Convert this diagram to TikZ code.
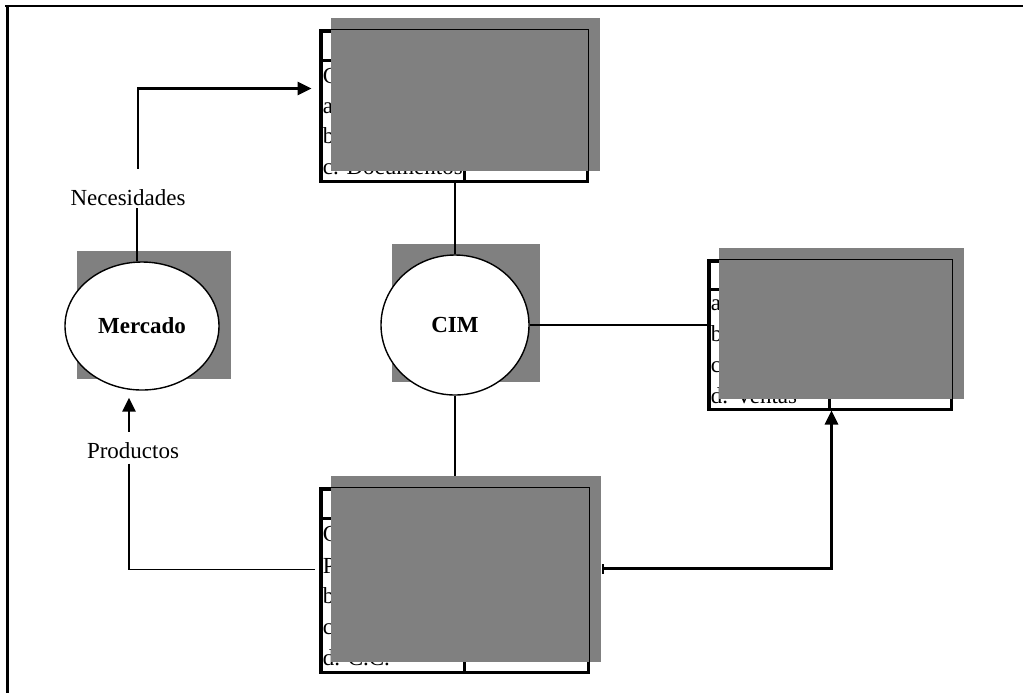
\documentclass[tikz,border=0pt]{standalone}
\usepackage{fontspec}
\setmainfont{Liberation Serif}
\usetikzlibrary{arrows.meta,positioning,calc,shapes.geometric}
\definecolor{cimgray}{RGB}{128,128,128}
\tikzset{
  cimbox/.style={
    draw,
    line width=1.5pt,
    inner sep=0pt
  },
  cimrule/.style={line width=1.2pt},
  cimrim/.style={line width=0.8pt},
  cimshade/.style={fill=cimgray},
  cimoval/.style={
    ellipse,
    draw,
    fill=white,
    line width=0.7pt,
    inner sep=0pt,
    font=\fontsize{11.5pt}{13pt}\selectfont\bfseries
  },
  cimrow/.style={anchor=base west,inner sep=0pt,
    font=\fontsize{11.5pt}{13pt}\selectfont},
  cimlabel/.style={anchor=base,inner sep=1pt,
    font=\fontsize{11.5pt}{13pt}\selectfont},
  cimlink/.style={line width=0.65pt},
  cimflow/.style={-{Triangle[length=7pt,width=6.5pt]},line width=1.4pt}
}

\begin{document}
\begin{tikzpicture}[x=0.5pt,y=-0.5pt]
  \useasboundingbox (0,0) rectangle (1023,693);
  % frame
  \draw[line width=1.1pt] (5,6) -- (1023,6);
  \draw[line width=1.1pt] (7.5,6) -- (7.5,693);

  % ovals with their shadows
  \fill[cimshade] (77,251) rectangle (231,379);
  \node[cimoval,minimum width=77pt,minimum height=64pt] (mercado) at (142,326) {Mercado};
  \fill[cimshade] (392,244) rectangle (540,382);
  \node[cimoval,minimum width=74pt,minimum height=70pt] (cim) at (455,325) {CIM};

  \node[cimlabel] (nec) at (128,205) {Necesidades};
  \node[cimlabel] (productos) at (133,458) {Productos};

  % tables
  \node[cimbox,minimum width=133pt,minimum height=75pt] (boxA) at (454,106) {};
  \node[cimbox,minimum width=121pt,minimum height=74pt] (boxB) at (830,335) {};
  \node[cimbox,minimum width=133.5pt,minimum height=91.5pt] (boxC) at (454.5,580.5) {};
  \draw[cimrule] ($(boxA.north west)+(0,31)$) -- ($(boxA.north east)+(0,31)$);
  \draw[cimrule] ($(boxA.north west)+(145,31)$) -- ($(boxA.south west)+(145,0)$);
  \draw[cimrule] ($(boxB.north west)+(0,30)$) -- ($(boxB.north east)+(0,30)$);
  \draw[cimrule] ($(boxB.north west)+(122,30)$) -- ($(boxB.south west)+(122,0)$);
  \draw[cimrule] ($(boxC.north west)+(0,31)$) -- ($(boxC.north east)+(0,31)$);
  \draw[cimrule] ($(boxC.north west)+(145,31)$) -- ($(boxC.south west)+(145,0)$);

  \node[cimrow] (a1) at ($(boxA.north west)+(3,54)$) {C};
  \node[cimrow] (a2) at ($(boxA.north west)+(3,84)$) {a};
  \node[cimrow] (a3) at ($(boxA.north west)+(3,114)$) {b};
  \node[cimrow] (a4) at ($(boxA.north west)+(3,145)$) {c. Documentos};
  \node[cimrow] (b1) at ($(boxB.north west)+(3,51)$) {a};
  \node[cimrow] (b2) at ($(boxB.north west)+(3,82)$) {b};
  \node[cimrow] (b3) at ($(boxB.north west)+(3,113)$) {c};
  \node[cimrow] (b4) at ($(boxB.north west)+(3,144)$) {d. Ventas};
  \node[cimrow] (c1) at ($(boxC.north west)+(3,54)$) {C};
  \node[cimrow] (c2) at ($(boxC.north west)+(3,86)$) {P};
  \node[cimrow] (c3) at ($(boxC.north west)+(3,116)$) {b};
  \node[cimrow] (c4) at ($(boxC.north west)+(3,147)$) {c};
  \node[cimrow] (c5) at ($(boxC.north west)+(3,178)$) {d. C.C.};

  % connectors
  \draw[cimlink] ($(mercado.north)+(-5,0)$) -- ($(nec.south)+(9,0)$);
  \draw[cimflow] ($(nec.north)+(10,-18)$) |- ($(boxA.north west)+(-8,59)$);
  \draw[cimflow] ($(productos.north)+(-4,-8)$) -- ++(0,-34);
  \draw[cimlink] ($(productos.south)+(-4,3)$) |- ($(boxC.north west)+(-5,82)$);
  \draw[cimlink] (cim.north) -- (cim.north |- boxA.south);
  \draw[cimlink] (cim.east) -- (cim.east -| boxB.west);
  \draw[cimlink] (cim.south) -- (cim.south |- boxC.north);
  \draw[cimflow,{Bar[width=5pt]}-{Triangle[length=7pt,width=6.5pt]}]
    ($(boxC.north east)+(12,81)$) -| ($(boxB.south west)+(124,0)$);

  % covers over the tables
  \fill[cimshade] ($(boxA.north west)+(11,-12)$) rectangle ($(boxA.south east)+(11,-12)$);
  \fill[cimshade] ($(boxB.north west)+(11,-12)$) rectangle ($(boxB.south east)+(11,-12)$);
  \fill[cimshade] ($(boxC.north west)+(11,-12)$) rectangle ($(boxC.south east)+(11,-12)$);
  \draw[cimrim] (boxA.north west) rectangle (boxA.south east);
  \draw[cimrim] (boxB.north west) rectangle (boxB.south east);
  \draw[cimrim] (boxC.north west) rectangle (boxC.south east);
\end{tikzpicture}
\end{document}
